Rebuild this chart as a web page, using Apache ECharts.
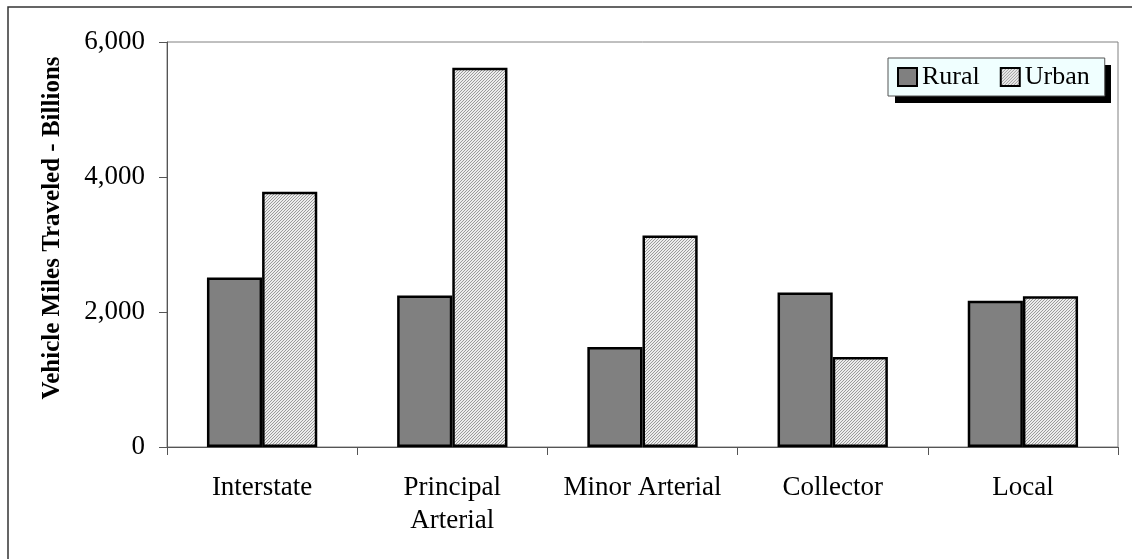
<!DOCTYPE html>
<html>
<head>
<meta charset="utf-8">
<script src="https://cdn.jsdelivr.net/npm/echarts@6/dist/echarts.min.js"></script>
<style>
  html, body { margin: 0; padding: 0; background: #fff; }
  #chart { width: 1132px; height: 559px; }
</style>
</head>
<body>
<div id="chart"></div>
<script>
// Vehicle miles traveled (billions) by functional road class
const categories = ['Interstate', 'Principal\nArterial', 'Minor Arterial', 'Collector', 'Local'];
const ruralVMT = [2510, 2245, 1480, 2290, 2165];
const urbanVMT = [3780, 5620, 3135, 1335, 2235];
const yTicks = { min: 0, max: 6000, interval: 2000 };

// Fine diagonal hatch used for the urban bars
function makeHatch() {
  const c = document.createElement('canvas');
  c.width = 3; c.height = 3;
  const ctx = c.getContext('2d');
  ctx.fillStyle = '#ececec';
  ctx.fillRect(0, 0, 3, 3);
  ctx.fillStyle = '#9a9a9a';
  ctx.fillRect(2, 0, 1, 1);
  ctx.fillRect(1, 1, 1, 1);
  ctx.fillRect(0, 2, 1, 1);
  return c;
}
const hatch = { image: makeHatch(), repeat: 'repeat' };

const serif = '"Liberation Serif", "Times New Roman", serif';
const chart = echarts.init(document.getElementById('chart'), null, { renderer: 'canvas' });

const legendLeft = 888, legendTop = 58, shadowOffset = 7;

chart.setOption({
  animation: false,
  backgroundColor: '#ffffff',
  textStyle: { fontFamily: serif, color: '#000' },
  graphic: [
    {
      // outer frame of the figure
      type: 'polyline',
      shape: { points: [[8, 600], [8, 7], [1140, 7]] },
      style: { stroke: '#333', lineWidth: 1.5, fill: null },
      silent: true
    },
    {
      // drop shadow behind the legend box
      type: 'rect',
      shape: { x: legendLeft + shadowOffset, y: legendTop + shadowOffset, width: 216, height: 38 },
      style: { fill: '#000' },
      z: 0,
      silent: true
    },
    {
      type: 'text',
      x: 53, y: 228,
      rotation: Math.PI / 2,
      style: {
        text: 'Vehicle Miles Traveled - Billions',
        font: 'bold 25px ' + serif,
        fill: '#000',
        align: 'center',
        verticalAlign: 'middle'
      },
      silent: true
    }
  ],
  legend: {
    data: ['Rural', 'Urban'],
    left: legendLeft, top: legendTop,
    orient: 'horizontal',
    itemWidth: 19, itemHeight: 18,
    itemGap: 20,
    padding: [6, 15, 6, 9],
    backgroundColor: '#f0ffff',
    borderColor: '#555',
    borderWidth: 1,
    z: 10,
    icon: 'rect',
    textStyle: { fontFamily: serif, fontSize: 26, color: '#000' }
  },
  grid: {
    left: 167, right: 14, top: 42, bottom: 112,
    show: true, borderColor: '#808080', borderWidth: 1, backgroundColor: 'transparent'
  },
  xAxis: {
    type: 'category',
    data: categories,
    axisLine: { lineStyle: { color: '#555', width: 1 } },
    axisTick: { show: true, length: 8, lineStyle: { color: '#555' } },
    axisLabel: {
      margin: 24, fontSize: 27, lineHeight: 33, color: '#000', fontFamily: serif,
      interval: 0
    },
    splitLine: { show: false }
  },
  yAxis: {
    type: 'value',
    min: yTicks.min, max: yTicks.max, interval: yTicks.interval,
    axisLine: { show: true, lineStyle: { color: '#555', width: 1 } },
    axisTick: { show: true, length: 8, lineStyle: { color: '#555' } },
    axisLabel: {
      margin: 22, fontSize: 27, color: '#000', fontFamily: serif,
      formatter: v => v.toLocaleString('en-US')
    },
    splitLine: { show: false }
  },
  series: [
    {
      name: 'Rural', type: 'bar', data: ruralVMT,
      barGap: '0%', barCategoryGap: '42%',
      itemStyle: { color: '#808080', borderColor: '#000', borderWidth: 2.5 }
    },
    {
      name: 'Urban', type: 'bar', data: urbanVMT,
      barGap: '0%', barCategoryGap: '42%',
      itemStyle: { color: hatch, borderColor: '#000', borderWidth: 2.5 }
    }
  ]
});
</script>
</body>
</html>
